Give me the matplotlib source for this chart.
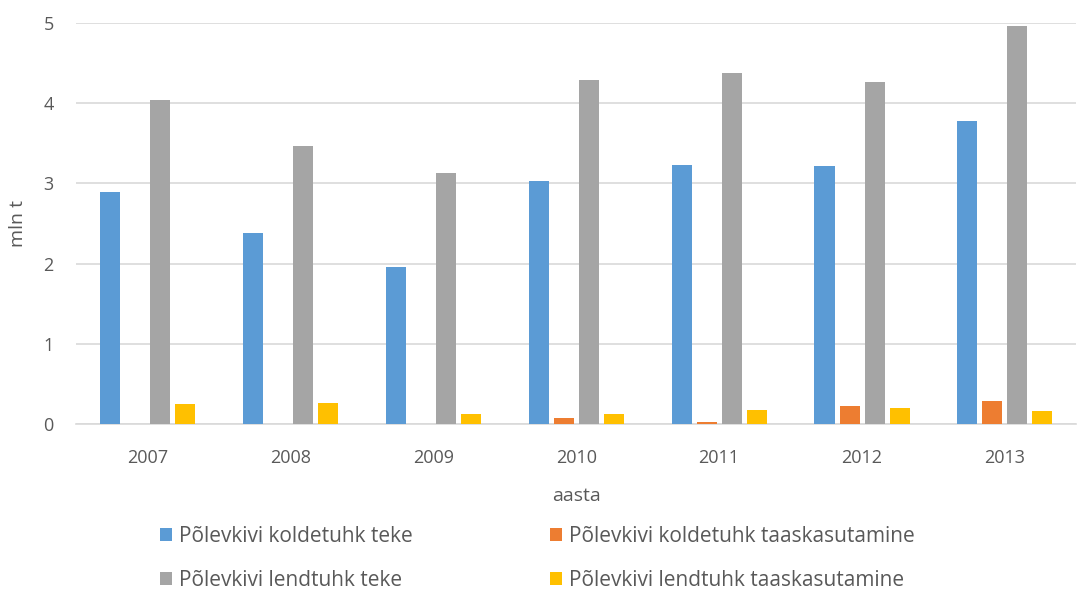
import numpy as np
import matplotlib.pyplot as plt

plt.rcParams['font.family'] = ['Open Sans', 'DejaVu Sans']

# Andmed (mln t)
aastad = ['2007', '2008', '2009', '2010', '2011', '2012', '2013']
koldetuhk_teke = [2.89, 2.38, 1.96, 3.03, 3.23, 3.22, 3.78]
koldetuhk_taaskasutus = [0.0, 0.0, 0.0, 0.07, 0.025, 0.22, 0.29]
lendtuhk_teke = [4.04, 3.47, 3.13, 4.29, 4.38, 4.26, 4.96]
lendtuhk_taaskasutus = [0.25, 0.26, 0.13, 0.13, 0.18, 0.20, 0.16]

seeriad = [
    ('Põlevkivi koldetuhk teke', koldetuhk_teke, '#5b9bd5'),
    ('Põlevkivi koldetuhk taaskasutamine', koldetuhk_taaskasutus, '#ed7d31'),
    ('Põlevkivi lendtuhk teke', lendtuhk_teke, '#a5a5a5'),
    ('Põlevkivi lendtuhk taaskasutamine', lendtuhk_taaskasutus, '#ffc000'),
]

tekst = '#595959'
fig = plt.figure(figsize=(10.78, 5.89), dpi=100)
ax = fig.add_axes([0.0705, 0.28, 0.928, 0.681])

x = np.arange(len(aastad))
laius = 0.14
samm = 0.175
for i, (nimi, vaartused, varv) in enumerate(seeriad):
    ax.bar(x + (i - 1.5) * samm, vaartused, laius, color=varv, label=nimi, zorder=3)

ax.set_xlim(-0.5, len(aastad) - 0.5)
ax.set_ylim(0, 5)
ax.set_yticks(range(6))
ax.set_xticks(x)
ax.set_xticklabels(aastad)
ax.grid(axis='y', color='#d9d9d9', linewidth=1.2, zorder=0)
for s in ['top', 'right', 'left']:
    ax.spines[s].set_visible(False)
ax.spines['bottom'].set_color('#d9d9d9')
ax.spines['bottom'].set_linewidth(1.2)
ax.tick_params(axis='x', length=0, labelsize=13, colors=tekst, pad=18)
ax.tick_params(axis='y', length=0, labelsize=13, colors=tekst, pad=16)
ax.set_xlabel('aasta', fontsize=14, color=tekst, labelpad=14)
ax.set_ylabel('mln t', fontsize=14, color=tekst, labelpad=12)

# legend: read row by row (matplotlib fills column-wise)
h, l = ax.get_legend_handles_labels()
jrk = [0, 2, 1, 3]
fig.legend([h[j] for j in jrk], [l[j] for j in jrk], loc='lower left',
           bbox_to_anchor=(0.131, -0.035), ncol=2, frameon=False,
           fontsize=15, labelcolor=tekst, handlelength=0.6, handleheight=0.6,
           handletextpad=0.3, columnspacing=6.6, labelspacing=1.1)

fig.savefig('out.png', dpi=100)
